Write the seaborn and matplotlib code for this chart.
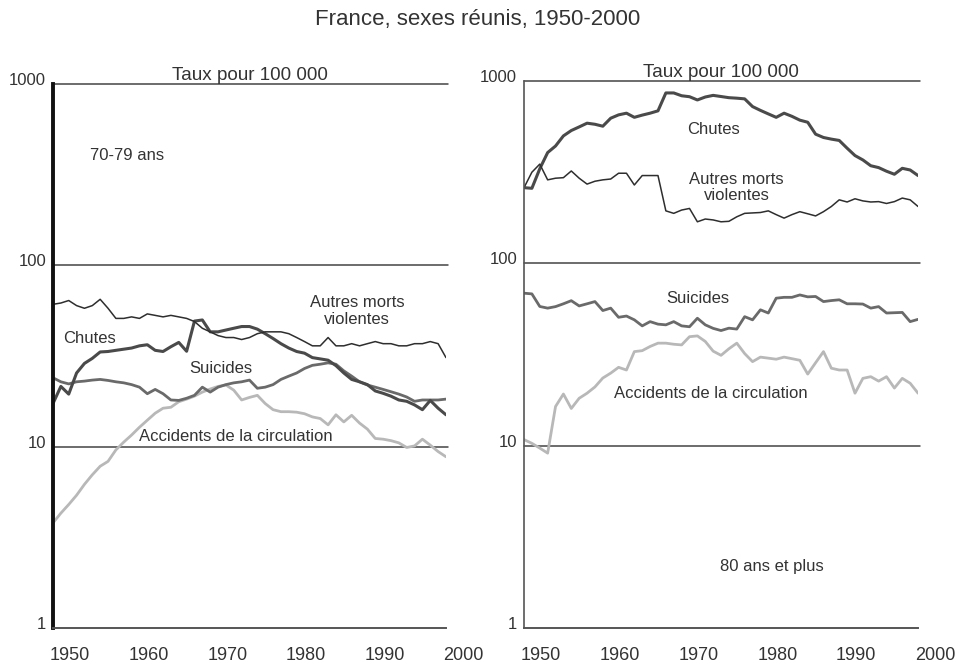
import matplotlib.pyplot as plt
import matplotlib.transforms as mtransforms
import pandas as pd
import seaborn as sns

# Annees 1950-2000
years = list(range(1950, 2001))

# 70-79 ans (taux pour 100 000)
chutes_70 = [17.3, 21.5, 19.5, 25.5, 28.8, 30.7, 33.3, 33.5, 34, 34.5,
             35, 36, 36.5, 34, 33.5, 35.6, 37.6, 33.6, 49.3, 50,
             43, 43, 44, 45, 46, 46, 44.5, 42, 39.5, 37,
             35, 33.5, 32.8, 31, 30.5, 30, 28, 25.5, 23.5, 22.8,
             22, 20.3, 19.7, 19, 18.1, 17.8, 17, 16, 18, 16.3, 15]
autres_70 = [61, 62, 64, 60, 58, 60, 65, 58, 51, 51,
             52, 51, 54, 53, 52, 53, 52, 51, 49, 45,
             43, 41, 40, 40, 39, 40, 42, 43, 43, 43,
             42, 40, 38, 36, 36, 40, 36, 36, 37, 36,
             37, 38, 37, 37, 36, 36, 37, 37, 38, 37, 31]
suicides_70 = [24, 22.8, 22.2, 22.8, 23, 23.3, 23.5, 23.2, 22.8, 22.5,
               22, 21.3, 19.6, 20.7, 19.6, 18.1, 18, 18.5, 19.2, 21.3,
               20, 21.3, 22, 22.5, 22.8, 23.3, 21, 21.3, 22, 23.5,
               24.5, 25.5, 27, 28.1, 28.5, 29, 28.5, 26.2, 24.5, 22.8,
               21.9, 21.3, 20.7, 20.1, 19.5, 18.8, 17.8, 18.1, 18.1, 18.1, 18.3]
accidents_70 = [3.8, 4.3, 4.8, 5.4, 6.2, 7.0, 7.8, 8.3, 9.6, 10.6,
                11.6, 12.8, 14, 15.3, 16.3, 16.5, 17.7, 18.3, 19, 20,
                20.8, 21.5, 21.9, 20.5, 18.1, 18.7, 19.2, 17.3, 16, 15.6,
                15.6, 15.5, 15.2, 14.6, 14.3, 13.2, 15, 13.7, 14.9, 13.5,
                12.5, 11.1, 11, 10.8, 10.5, 9.9, 10.1, 11, 10.2, 9.4, 8.8]

# 80 ans et plus
chutes_80 = [260, 258, 330, 405, 440, 500, 535, 560, 587, 579,
             565, 625, 652, 666, 632, 650, 666, 686, 860, 860,
             830, 820, 787, 817, 834, 822, 810, 805, 798, 724,
             690, 660, 632, 666, 640, 610, 594, 511, 490, 480,
             472, 428, 390, 369, 343, 335, 320, 308, 332, 325, 303]
autres_80 = [260, 316, 350, 287, 293, 295, 321, 293, 272, 282,
             287, 290, 312, 312, 269, 303, 303, 303, 194, 188,
             196, 200, 169, 175, 173, 169, 170, 180, 188, 189,
             190, 194, 185, 177, 185, 192, 187, 182, 192, 205,
             223, 217, 226, 220, 217, 218, 213, 218, 228, 223, 205]
suicides_80 = [68.6, 68, 58, 56.8, 57.9, 60, 62.4, 58.4, 60, 61.7,
               55.1, 56.8, 50.6, 51.4, 49, 45.4, 47.9, 46.4, 46, 47.9,
               45.4, 44.9, 50, 46, 44, 42.8, 44.1, 43.6, 51, 49,
               55.6, 53.4, 64.4, 65.1, 65.1, 67.1, 65.5, 65.8, 61.7, 62.5,
               63.1, 60, 60, 59.8, 56.8, 57.9, 53.4, 53.6, 53.8, 47.9, 49.3]
accidents_80 = [10.8, 10.3, 9.7, 9.1, 16.4, 19.2, 16, 18.2, 19.4, 21,
                23.5, 25, 26.9, 26, 32.8, 33.2, 35, 36.5, 36.5, 36,
                35.7, 39.6, 40, 37.3, 33, 31.3, 34, 36.5, 32, 28.9,
                30.6, 30.2, 29.8, 30.6, 30, 29.4, 24.7, 28.5, 32.8, 26.6,
                26, 26, 19.4, 23.4, 23.9, 22.6, 23.9, 20.7, 23.4, 22, 19.4]

sns.set_style('white')
plt.rcParams['font.family'] = ['Liberation Sans', 'DejaVu Sans']
txt_col = '#333333'

# style des series : (couleur, epaisseur)
styles = {
    'Accidents': ('#b8b8b8', 2.0),
    'Suicides': ('#6a6a6a', 2.0),
    'Chutes': ('#4a4a4a', 2.2),
    'Autres': ('#2e2e2e', 1.1),
}

fig = plt.figure(figsize=(9.55, 6.65), dpi=100)
ax1 = fig.add_axes([0.0555, 0.0556, 0.4115, 0.818])
ax2 = fig.add_axes([0.5487, 0.0556, 0.4126, 0.8226])


def draw_panel(ax, series, thick_left):
    df = pd.DataFrame({'annee': years, **series})
    for name in ['Accidents', 'Suicides', 'Chutes', 'Autres']:
        col, lw = styles[name]
        sns.lineplot(data=df, x='annee', y=name, ax=ax, color=col, linewidth=lw)
    ax.set_yscale('log')
    ax.set_ylim(1, 1000)
    ax.set_xlim(1950, 2000)
    ax.set_xlabel('')
    ax.set_ylabel('')
    ax.grid(False)
    for v in [10, 100, 1000]:
        ax.axhline(v, color='#444444', linewidth=1.1, zorder=0,
                   xmax=1.005, clip_on=False)
    for s in ['top', 'right']:
        ax.spines[s].set_visible(False)
    ax.spines['bottom'].set_color('#555555')
    ax.spines['bottom'].set_linewidth(1.4)
    if thick_left:
        ax.spines['left'].set_color('#111111')
        ax.spines['left'].set_linewidth(2.8)
    else:
        ax.spines['left'].set_color('#555555')
        ax.spines['left'].set_linewidth(1.2)
    ax.set_yticks([1, 10, 100, 1000])
    ax.set_yticklabels(['1', '10', '100', '1000'])
    ax.yaxis.set_minor_locator(plt.NullLocator())
    ax.tick_params(axis='y', length=0, pad=5, labelsize=12, labelcolor=txt_col)
    ax.set_xticks([1950, 1960, 1970, 1980, 1990, 2000])
    ax.tick_params(axis='x', direction='in', length=5, width=1.2, color='#555555',
                   pad=14, labelsize=13, labelcolor=txt_col)
    # les etiquettes d'annees sont decalees vers la droite
    off = mtransforms.ScaledTranslation(17 / 100, 0, fig.dpi_scale_trans)
    for lbl in ax.get_xticklabels():
        lbl.set_transform(lbl.get_transform() + off)
    up = mtransforms.ScaledTranslation(0, 5 / 100, fig.dpi_scale_trans)
    for lbl in ax.get_yticklabels():
        lbl.set_transform(lbl.get_transform() + up)
    ax.set_title('Taux pour 100 000', fontsize=13.6, color=txt_col, pad=3)


draw_panel(ax1, {'Chutes': chutes_70, 'Autres': autres_70,
                 'Suicides': suicides_70, 'Accidents': accidents_70}, True)
draw_panel(ax2, {'Chutes': chutes_80, 'Autres': autres_80,
                 'Suicides': suicides_80, 'Accidents': accidents_80}, False)

lbl_kw = dict(fontsize=12, color=txt_col, ha='center', va='center')
ax1.text(1954.7, 406, '70-79 ans', fontsize=12, color=txt_col, ha='left', va='center')
ax1.text(1954.6, 39.6, 'Chutes', **lbl_kw)
ax1.text(1971.4, 27, 'Suicides', **lbl_kw)
ax1.text(1988.7, 56, 'Autres morts\nviolentes', linespacing=1.1, **lbl_kw)
ax1.text(1973.2, 11.4, 'Accidents de la circulation', **lbl_kw)

ax2.text(1974, 539, 'Chutes', **lbl_kw)
ax2.text(1977, 261, 'Autres morts\nviolentes', linespacing=1.1, **lbl_kw)
ax2.text(1972.1, 64.4, 'Suicides', **lbl_kw)
ax2.text(1973.7, 19.4, 'Accidents de la circulation', **lbl_kw)
ax2.text(1981.5, 2.17, '80 ans et plus', **lbl_kw)

fig.text(0.5, 0.97, 'France, sexes réunis, 1950-2000', fontsize=16,
         color=txt_col, ha='center', va='center')

fig.savefig('out.png', dpi=100)
